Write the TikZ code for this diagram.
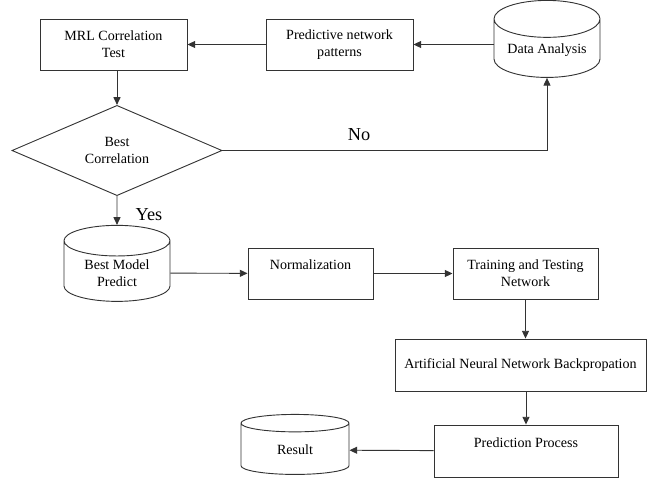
\documentclass[tikz,border=0pt]{standalone}
\usepackage{fontspec}
\setmainfont{Liberation Serif}
\usetikzlibrary{shapes.geometric,arrows.meta}

\begin{document}
\begin{tikzpicture}[x=0.025cm,y=-0.025cm,line width=0.65pt,draw=black!80,
    box/.style={draw,rectangle,align=center,inner sep=2pt},
    drum/.style={draw,cylinder,shape border rotate=90,aspect=0.45,align=center,inner sep=1pt},
    decision/.style={draw,diamond,align=center,inner sep=0pt},
    arr/.style={-{Triangle[length=5.5pt,width=5pt]}},
    lbl/.style={font=\fontsize{13}{15}\selectfont}]
        % Fix the picture size
        \useasboundingbox (0,0) rectangle (647,481);
        % Top row
        \node[drum,minimum width=2.65cm,minimum height=1.925cm] (data) at (547,50.5) {Data Analysis};
        \node[box,minimum width=3.675cm,minimum height=1.275cm] (pred) at (339.5,44.5) {Predictive network\\patterns};
        \node[box,minimum width=3.675cm,minimum height=1.275cm] (mrl) at (113.5,44.5) {MRL Correlation\\Test};
        % Decision
        \node[decision,minimum width=5.25cm,minimum height=2.175cm] (corr) at (117,150.5) {Best\\Correlation};
        \node[lbl] (no) at (359,135) {No};
        \node[lbl] (yes) at (149,215) {Yes};
        % Middle row
        \node[drum,minimum width=2.65cm,minimum height=1.9cm] (best) at (117,273) {Best Model\\Predict};
        \node[box,minimum width=3.125cm,minimum height=1.275cm] (norm) at (310.5,273.5) {Normalization\\~};
        \node[box,minimum width=3.625cm,minimum height=1.275cm] (train) at (525.5,273.5) {Training and Testing\\Network};
        % Bottom part
        \node[box,minimum width=6.275cm,minimum height=1.3cm] (ann) at (520.5,365) {Artificial Neural Network Backpropation};
        \node[box,minimum width=4.6cm,minimum height=1.3cm] (predp) at (526,451) {Prediction Process\\~};
        \node[drum,minimum width=2.7cm,minimum height=1.5cm] (result) at (295,450) {Result};
        % Draw the arrows
        \draw[arr] (data.west |- pred) -- (pred);
        \draw[arr] (pred) -- (mrl);
        \draw[arr] (mrl.south -| corr) -- (corr);
        \draw[arr] (corr.east) -| (data);
        \draw[arr] (corr) -- (best);
        \draw[arr] (best) -- (norm);
        \draw[arr] (norm) -- (train);
        \draw[arr] (train) -- (train |- ann.north);
        \draw[arr] (ann.south -| predp) -- (predp);
        \draw[arr] (predp) -- (result);
    \end{tikzpicture}
\end{document}
